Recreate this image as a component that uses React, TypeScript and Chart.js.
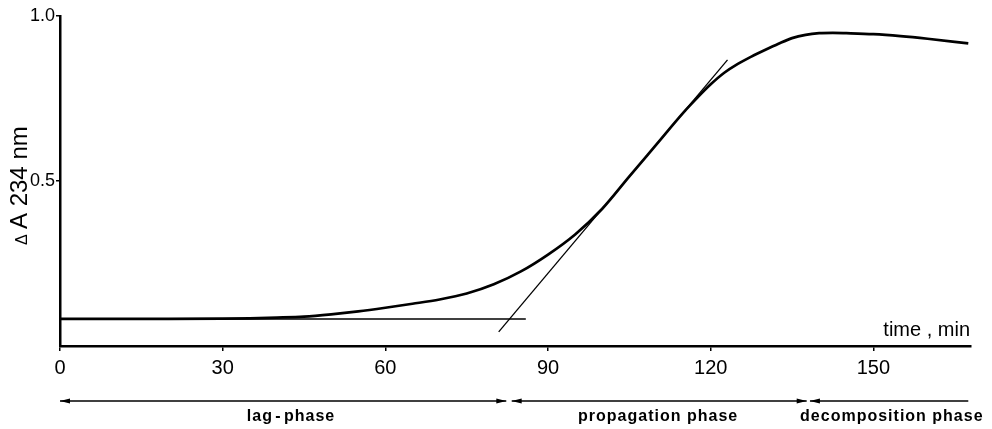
import { useEffect, useRef } from "react";
import { Chart, registerables } from "chart.js";

Chart.register(...registerables);

// Absorbance at 234 nm against time (min)
const timeMin = [
  0, 20, 30, 35, 40, 45, 50, 55, 60, 65, 70, 75, 80, 85, 90, 95, 100, 105, 110, 115,
  117.5, 120, 122.5, 125, 127.5, 130, 132.5, 135, 137.5, 140, 142.5, 145, 150, 155, 160, 167.5,
];
const absorbance = [
  0.082, 0.082, 0.083, 0.084, 0.086, 0.089, 0.096, 0.105, 0.116, 0.128, 0.141, 0.159, 0.187, 0.226, 0.277, 0.338, 0.416, 0.514, 0.611, 0.708,
  0.752, 0.793, 0.828, 0.855, 0.877, 0.897, 0.916, 0.933, 0.943, 0.948, 0.949, 0.948, 0.945, 0.939, 0.931, 0.917,
];

// Construction lines: lag baseline and tangent of the propagation slope
const baselineTime = [0, 85.9];
const baselineAbs = [0.082, 0.082];
const tangentTime = [80.9, 123.1];
const tangentAbs = [0.043, 0.867];

// Axis ticks
const xTickValues = [0, 30, 60, 90, 120, 150];
const yTickValues = [0.5, 1.0];
const xMax = 168;

// Phases shown as arrows below the time axis (minutes)
const phaseNames = ["lag\u200a-\u200aphase", "propagation phase", "decomposition phase"];
const phaseStart = [0, 83.3, 138.3];
const phaseEnd = [82.3, 137.7, 167.5];
const phaseHeadRight = [true, true, false];
const phaseLabelCenter = [42.6, 110.3, 153.4];

const FONT = "'Liberation Sans', Arial, Helvetica, sans-serif";

const toPoints = (xs: number[], ys: number[]) => xs.map((x, i) => ({ x, y: ys[i] }));

function arrowHead(ctx: CanvasRenderingContext2D, x: number, y: number, dir: number) {
  ctx.beginPath();
  ctx.moveTo(x, y);
  ctx.lineTo(x - dir * 10, y - 2.6);
  ctx.lineTo(x - dir * 10, y + 2.6);
  ctx.closePath();
  ctx.fill();
}

const annotations = {
  id: "annotations",
  afterDraw(chart: any) {
    const ctx: CanvasRenderingContext2D = chart.ctx;
    const xs = chart.scales.x;
    const area = chart.chartArea;
    ctx.save();
    ctx.fillStyle = "#000";
    ctx.strokeStyle = "#000";

    // y-axis title, reading upwards: a small delta, then "A 234 nm"
    ctx.save();
    ctx.translate(27, (area.top + area.bottom) / 2 + 64);
    ctx.rotate(-Math.PI / 2);
    ctx.textAlign = "left";
    ctx.textBaseline = "alphabetic";
    ctx.font = `16px ${FONT}`;
    ctx.fillText("\u0394", 0, 0);
    ctx.font = `24px ${FONT}`;
    ctx.fillText("A 234 nm", 16, 0);
    ctx.restore();

    // x-axis title, above the axis at the right end
    ctx.font = `20px ${FONT}`;
    ctx.textAlign = "right";
    ctx.textBaseline = "alphabetic";
    ctx.fillText("time , min", area.right - 1, area.bottom - 10);

    // phase arrows
    const ay = 401;
    ctx.lineWidth = 1.5;
    phaseNames.forEach((name, i) => {
      const x0 = xs.getPixelForValue(phaseStart[i]);
      const x1 = xs.getPixelForValue(phaseEnd[i]);
      ctx.beginPath();
      ctx.moveTo(x0, ay);
      ctx.lineTo(x1, ay);
      ctx.stroke();
      arrowHead(ctx, x0, ay, -1);
      if (phaseHeadRight[i]) arrowHead(ctx, x1, ay, 1);
      ctx.font = `bold 16px ${FONT}`;
      (ctx as any).letterSpacing = "1px";
      ctx.textAlign = "center";
      ctx.textBaseline = "alphabetic";
      ctx.fillText(name, xs.getPixelForValue(phaseLabelCenter[i]), 421);
      (ctx as any).letterSpacing = "0px";
    });
    ctx.restore();
  },
};

export default function App() {
  const canvasRef = useRef<HTMLCanvasElement | null>(null);

  useEffect(() => {
    const canvas = canvasRef.current;
    if (!canvas) return;
    const chart = new Chart(canvas, {
      type: "line",
      data: {
        datasets: [
          {
            data: toPoints(timeMin, absorbance),
            borderColor: "#000",
            borderWidth: 2.7,
            pointRadius: 0,
            cubicInterpolationMode: "monotone",
          },
          {
            data: toPoints(baselineTime, baselineAbs),
            borderColor: "#000",
            borderWidth: 1.5,
            pointRadius: 0,
          },
          {
            data: toPoints(tangentTime, tangentAbs),
            borderColor: "#000",
            borderWidth: 1.3,
            pointRadius: 0,
          },
        ],
      },
      options: {
        responsive: false,
        animation: false,
        events: [],
        layout: { padding: { left: 8, right: 21, top: 16, bottom: 0 } },
        plugins: {
          legend: { display: false },
          tooltip: { enabled: false },
        },
        scales: {
          x: {
            type: "linear",
            min: 0,
            max: xMax,
            afterBuildTicks: (s: any) => {
              s.ticks = xTickValues.map((value) => ({ value }));
            },
            afterFit: (s: any) => {
              s.height = 83;
            },
            border: { display: true, color: "#000", width: 2.5 },
            grid: { display: true, drawOnChartArea: false, drawTicks: true, tickLength: 5, color: "#000", lineWidth: 1.5 },
            ticks: {
              color: "#000",
              padding: 5,
              maxRotation: 0,
              font: { family: FONT, size: 20 },
              callback: (v: any) => String(v),
            },
          },
          y: {
            type: "linear",
            min: 0,
            max: 1.0,
            afterBuildTicks: (s: any) => {
              s.ticks = yTickValues.map((value) => ({ value }));
            },
            afterFit: (s: any) => {
              s.width = 52;
            },
            border: { display: true, color: "#000", width: 2.5 },
            grid: { display: true, drawOnChartArea: false, drawTicks: true, tickLength: 4, color: "#000", lineWidth: 1.5 },
            ticks: {
              color: "#000",
              padding: 1,
              font: { family: FONT, size: 18 },
              callback: (v: any) => Number(v).toFixed(1),
            },
          },
        },
      },
      plugins: [annotations],
    } as any);
    return () => chart.destroy();
  }, []);

  return (
    <div style={{ position: "fixed", left: 0, top: 0, width: 992, height: 429, background: "#fff" }}>
      <canvas ref={canvasRef} width={992} height={429} />
    </div>
  );
}
